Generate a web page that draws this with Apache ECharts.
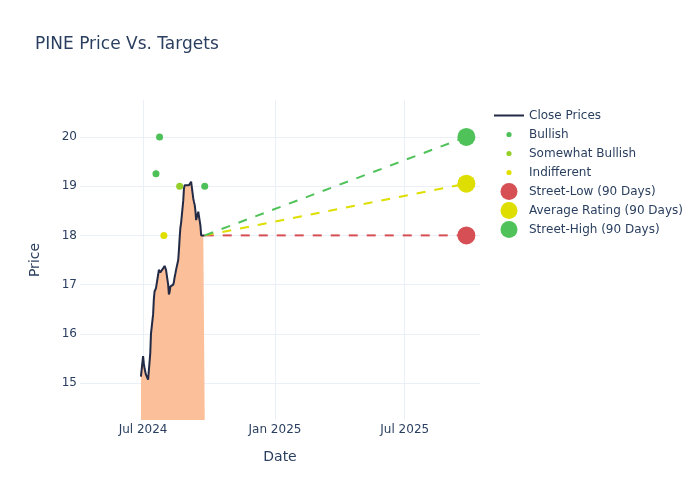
<!DOCTYPE html>
<html>
<head>
<meta charset="utf-8">
<script src="https://cdn.jsdelivr.net/npm/echarts@6/dist/echarts.min.js"></script>
<style>html,body{margin:0;padding:0;background:#fff}#c{width:700px;height:500px}</style>
</head>
<body>
<div id="c"></div>
<script>
// ---- data ----
const priceDates = ['2024-06-28','2024-07-01','2024-07-02','2024-07-03','2024-07-05','2024-07-08','2024-07-09','2024-07-10','2024-07-11','2024-07-12',
  '2024-07-15','2024-07-16','2024-07-17','2024-07-18','2024-07-19','2024-07-22','2024-07-23','2024-07-24','2024-07-25','2024-07-26',
  '2024-07-29','2024-07-30','2024-07-31','2024-08-01','2024-08-02','2024-08-05','2024-08-06','2024-08-07','2024-08-08','2024-08-09',
  '2024-08-12','2024-08-13','2024-08-14','2024-08-15','2024-08-16','2024-08-19','2024-08-20','2024-08-21','2024-08-22','2024-08-23',
  '2024-08-26','2024-08-27','2024-08-28','2024-08-29','2024-08-30','2024-09-03','2024-09-04','2024-09-05','2024-09-06','2024-09-09',
  '2024-09-10','2024-09-11','2024-09-12','2024-09-13','2024-09-16','2024-09-17','2024-09-18','2024-09-19','2024-09-20','2024-09-23',
  '2024-09-24','2024-09-25'];
const closePrices = [15.13,15.55,15.40,15.30,15.17,15.07,15.06,15.05,15.60,16.00,
  16.40,16.70,16.86,16.90,16.93,17.20,17.30,17.28,17.25,17.25,
  17.33,17.35,17.38,17.41,17.30,17.00,16.80,16.85,16.96,16.93,
  17.00,17.05,17.15,17.22,17.30,17.50,17.70,17.95,18.15,18.25,
  18.70,18.95,19.02,19.00,18.99,19.02,19.00,19.05,19.09,18.75,
  18.68,18.62,18.50,18.31,18.48,18.46,18.45,18.20,18.00,18.00,
  18.00,18.00];

const bullishDates = ['2024-07-19','2024-07-24','2024-09-25'];
const bullishValues = [19.25, 20, 19];
const somewhatBullishDates = ['2024-08-21'];
const somewhatBullishValues = [19];
const indifferentDates = ['2024-07-30'];
const indifferentValues = [18];

const targetStartDate = '2024-09-25';
const targetStartPrice = 18;
const targetDate = '2025-09-25';
const streetLow = 18;
const averageRating = 19.05;
const streetHigh = 20;

const xTickDates = ['2024-07-01','2025-01-01','2025-07-01'];
const yTicks = [15,16,17,18,19,20];
const xRange = ['2024-04-04','2025-10-14'];
const yRange = [14.25, 20.75];

// ---- helpers ----
const MONTHS = ['Jan','Feb','Mar','Apr','May','Jun','Jul','Aug','Sep','Oct','Nov','Dec'];
function ts(s){ const p = s.split('-').map(Number); return Date.UTC(p[0], p[1]-1, p[2]); }
function pairs(ds, vs){ return ds.map((d,i)=>[ts(d), vs[i]]); }

const FONT = 'DejaVu Sans';
const TXT = '#2a3f5f';
const GRID = '#ebf0f8';

const C_LINE = '#222a45';
const C_FILL = '#fbbf9a';
const C_BULL = '#4dc157';
const C_SBULL = '#94cf2a';
const C_IND = '#e0e000';
const C_LOW = '#d64f55';
const C_AVG = '#dede00';
const C_HIGH = '#50c25a';

// legend icons: box 300x190 -> 30x19 px
const BOX = 'M0,0M300,190';
const ICON_LINE = 'path://' + BOX + 'M0,85L300,85L300,105L0,105Z';
const circ = r => 'path://' + BOX + 'M150,' + (95-r) + 'A' + r + ',' + r + ',0,1,1,150,' + (95+r) + 'A' + r + ',' + r + ',0,1,1,150,' + (95-r) + 'Z';
const ICON_SMALL = circ(26);
const ICON_BIG = circ(85);

const chart = echarts.init(document.getElementById('c'), null, {renderer: 'canvas'});

const dot = c => ({color: c, opacity: 1, borderWidth: 0});

const option = {
  animation: false,
  backgroundColor: '#fff',
  textStyle: {fontFamily: FONT},
  title: {
    text: 'PINE Price Vs. Targets',
    left: 35, top: 36, padding: 0,
    textStyle: {fontFamily: FONT, fontSize: 17, fontWeight: 'normal', color: TXT}
  },
  legend: {
    orient: 'vertical',
    left: 494, top: 106, padding: 0,
    itemWidth: 30, itemHeight: 19, itemGap: 0,
    selectedMode: false,
    itemStyle: {borderWidth: 0, opacity: 1},
    textStyle: {fontFamily: FONT, fontSize: 12, color: TXT},
    data: [
      {name: 'Close Prices', icon: ICON_LINE},
      {name: 'Bullish', icon: ICON_SMALL},
      {name: 'Somewhat Bullish', icon: ICON_SMALL},
      {name: 'Indifferent', icon: ICON_SMALL},
      {name: 'Street-Low (90 Days)', icon: ICON_BIG},
      {name: 'Average Rating (90 Days)', icon: ICON_BIG},
      {name: 'Street-High (90 Days)', icon: ICON_BIG}
    ]
  },
  grid: {left: 80, right: 220, top: 100, bottom: 80, containLabel: false},
  xAxis: {
    type: 'value',
    min: ts(xRange[0]), max: ts(xRange[1]),
    name: 'Date', nameLocation: 'middle', nameGap: 30,
    nameTextStyle: {fontFamily: FONT, fontSize: 14, color: TXT},
    axisLine: {show: false},
    axisTick: {show: false, customValues: xTickDates.map(ts)},
    axisLabel: {
      customValues: xTickDates.map(ts),
      fontFamily: FONT, fontSize: 12, color: TXT, margin: 4,
      formatter: v => { const d = new Date(v); return MONTHS[d.getUTCMonth()] + ' ' + d.getUTCFullYear(); }
    },
    splitLine: {show: true, lineStyle: {color: GRID, width: 1}}
  },
  yAxis: {
    type: 'value',
    min: yRange[0], max: yRange[1],
    name: 'Price', nameLocation: 'middle', nameGap: 38,
    nameTextStyle: {fontFamily: FONT, fontSize: 14, color: TXT},
    axisLine: {show: false},
    axisTick: {show: false, customValues: yTicks},
    axisLabel: {customValues: yTicks, fontFamily: FONT, fontSize: 12, color: TXT, margin: 3},
    splitLine: {show: true, lineStyle: {color: GRID, width: 1}}
  },
  series: [
    {
      name: 'Close Prices', type: 'line',
      data: pairs(priceDates, closePrices),
      color: C_LINE,
      symbol: 'none', showSymbol: false,
      lineStyle: {color: C_LINE, width: 2},
      areaStyle: {color: C_FILL, opacity: 1, origin: 'start'},
      z: 2
    },
    {
      name: 'Bullish', type: 'scatter', color: C_BULL, itemStyle: dot(C_BULL),
      data: pairs(bullishDates, bullishValues), symbolSize: 7, z: 5
    },
    {
      name: 'Somewhat Bullish', type: 'scatter', color: C_SBULL, itemStyle: dot(C_SBULL),
      data: pairs(somewhatBullishDates, somewhatBullishValues), symbolSize: 7, z: 5
    },
    {
      name: 'Indifferent', type: 'scatter', color: C_IND, itemStyle: dot(C_IND),
      data: pairs(indifferentDates, indifferentValues), symbolSize: 7, z: 5
    },
    {
      name: 'low-line', type: 'line', symbol: 'none', color: C_LOW,
      lineStyle: {color: C_LOW, width: 2, type: [9, 9]},
      data: [[ts(targetStartDate), targetStartPrice], [ts(targetDate), streetLow]], z: 3
    },
    {
      name: 'avg-line', type: 'line', symbol: 'none', color: C_AVG,
      lineStyle: {color: C_AVG, width: 2, type: [9, 9]},
      data: [[ts(targetStartDate), targetStartPrice], [ts(targetDate), averageRating]], z: 3
    },
    {
      name: 'high-line', type: 'line', symbol: 'none', color: C_HIGH,
      lineStyle: {color: C_HIGH, width: 2, type: [9, 9]},
      data: [[ts(targetStartDate), targetStartPrice], [ts(targetDate), streetHigh]], z: 3
    },
    {
      name: 'Street-Low (90 Days)', type: 'scatter', color: C_LOW, itemStyle: dot(C_LOW),
      data: [[ts(targetDate), streetLow]], symbolSize: 18, z: 6
    },
    {
      name: 'Average Rating (90 Days)', type: 'scatter', color: C_AVG, itemStyle: dot(C_AVG),
      data: [[ts(targetDate), averageRating]], symbolSize: 18, z: 6
    },
    {
      name: 'Street-High (90 Days)', type: 'scatter', color: C_HIGH, itemStyle: dot(C_HIGH),
      data: [[ts(targetDate), streetHigh]], symbolSize: 18, z: 6
    }
  ]
};
chart.setOption(option);
</script>
</body>
</html>
